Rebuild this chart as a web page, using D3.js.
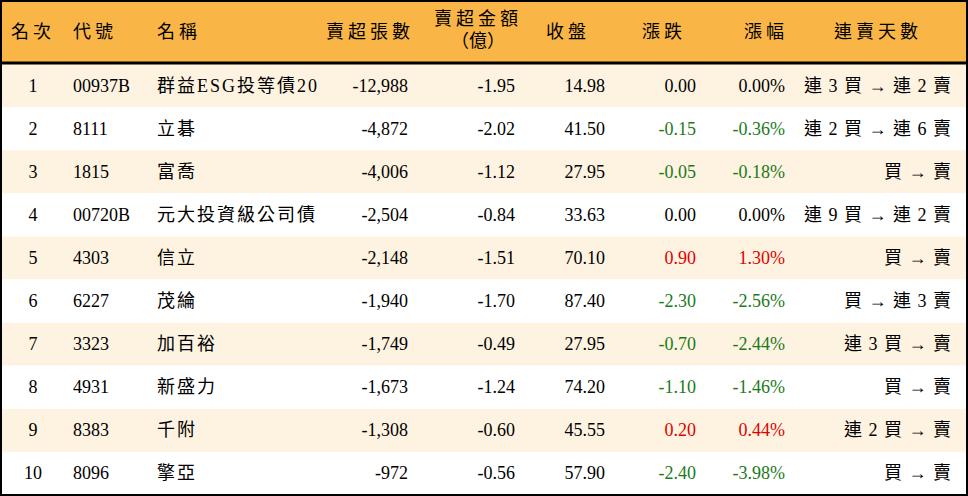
<!DOCTYPE html>
<html>
<head>
<meta charset="utf-8">
<style>
  body { margin: 0; background: #fff; }
  text { font-family: "Liberation Serif", "Noto Sans CJK TC", serif; font-size: 18px; }
</style>
<script src="https://d3js.org/d3.v7.min.js"></script>
</head>
<body>
<svg id="chart" width="968" height="496"></svg>
<script>
var ranks = [1,2,3,4,5,6,7,8,9,10];
var codes = ['00937B','8111','1815','00720B','4303','6227','3323','4931','8383','8096'];
var names = ['群益ESG投等債20','立碁','富喬','元大投資級公司債','信立','茂綸','加百裕','新盛力','千附','擎亞'];
var netSell = [-12988,-4872,-4006,-2504,-2148,-1940,-1749,-1673,-1308,-972];
var amount = [-1.95,-2.02,-1.12,-0.84,-1.51,-1.70,-0.49,-1.24,-0.60,-0.56];
var closes = [14.98,41.50,27.95,33.63,70.10,87.40,27.95,74.20,45.55,57.90];
var change = [0.00,-0.15,-0.05,0.00,0.90,-2.30,-0.70,-1.10,0.20,-2.40];
var pct = [0.00,-0.36,-0.18,0.00,1.30,-2.56,-2.44,-1.46,0.44,-3.98];
var streak = ['連 3 買 → 連 2 賣','連 2 買 → 連 6 賣','買 → 賣','連 9 買 → 連 2 賣','買 → 賣',
              '買 → 連 3 賣','連 3 買 → 賣','買 → 賣','連 2 買 → 賣','買 → 賣'];

var W = 968, H = 496, headH = 63;
var svg = d3.select('#chart');
var y = d3.scaleBand().domain(d3.range(ranks.length)).range([headH + 1, H - 1]);

svg.append('rect').attr('width', W).attr('height', headH).attr('fill', '#F9B647');
svg.selectAll('rect.row').data(ranks).enter().append('rect')
  .attr('x', 0).attr('y', function(d, i){ return y(i); })
  .attr('width', W).attr('height', y.bandwidth())
  .attr('fill', function(d, i){ return i % 2 ? '#fff' : '#FEF3E1'; });
svg.append('line').attr('x1', 0).attr('x2', W).attr('y1', headH).attr('y2', headH)
  .attr('stroke', '#000').attr('stroke-width', 3);
svg.append('rect').attr('x', 1).attr('y', 1).attr('width', W - 2).attr('height', H - 2)
  .attr('fill', 'none').attr('stroke', '#000').attr('stroke-width', 2);

// hyphen-minus like the reference, not the unicode minus
function fix(s){ return String(s).replace(/\u2212/g, '-'); }
var fmt2 = function(v){ return fix(d3.format('.2f')(v)); };
function col(v){ return v > 0 ? '#e00000' : v < 0 ? '#1b7a1b' : '#000'; }
var cols = [
  {h: '名次', hx: 33, ha: 'middle', x: 33, a: 'middle', v: function(i){ return ranks[i]; }},
  {h: '代號', hx: 73, ha: 'start', x: 73, a: 'start', v: function(i){ return codes[i]; }},
  {h: '名稱', hx: 157, ha: 'start', x: 157, a: 'start', ls: 2, v: function(i){ return names[i]; }},
  {h: '賣超張數', hx: 414, ha: 'end', x: 408, a: 'end', v: function(i){ return fix(d3.format(',')(netSell[i])); }},
  {h: ['賣超金額', '（億）'], hx: 478, ha: 'middle', x: 515, a: 'end', v: function(i){ return fmt2(amount[i]); }},
  {h: '收盤', hx: 568, ha: 'middle', x: 605, a: 'end', v: function(i){ return fmt2(closes[i]); }},
  {h: '漲跌', hx: 664, ha: 'middle', x: 696, a: 'end', v: function(i){ return fmt2(change[i]); }, c: function(i){ return col(change[i]); }},
  {h: '漲幅', hx: 766, ha: 'middle', x: 785, a: 'end', v: function(i){ return fmt2(pct[i]) + '%'; }, c: function(i){ return col(pct[i]); }},
  {h: '連賣天數', hx: 878, ha: 'middle', x: 952, a: 'end', ls: 1, v: function(i){ return streak[i]; }}
];

cols.forEach(function(c){
  var t = svg.append('text').attr('x', c.hx).attr('text-anchor', c.ha)
    .attr('letter-spacing', 4).attr('font-family', '"Noto Sans CJK TC"').attr('font-size', 17);
  if (Array.isArray(c.h)) {
    t.attr('y', 25).text(c.h[0]);
    svg.append('text').attr('x', c.hx).attr('y', 47).attr('text-anchor', 'middle')
      .attr('font-family', '"Noto Sans CJK TC"').attr('font-size', 17).text(c.h[1]);
  } else {
    t.attr('y', 38).text(c.h);
  }
  svg.selectAll(null).data(ranks).enter().append('text')
    .attr('x', c.x).attr('y', function(d, i){ return y(i) + y.bandwidth() / 2 + 6; })
    .attr('text-anchor', c.a)
    .attr('letter-spacing', c.ls || 0)
    .attr('fill', function(d, i){ return c.c ? c.c(i) : '#000'; })
    .text(function(d, i){ return c.v(i); });
});
</script>
</body>
</html>
